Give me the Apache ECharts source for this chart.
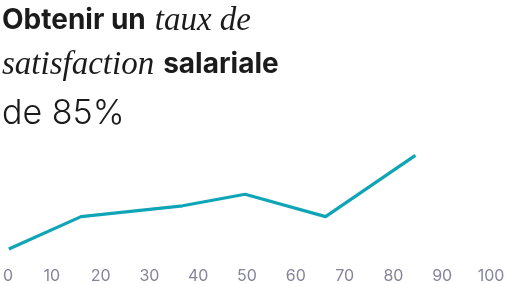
<!DOCTYPE html>
<html>
<head>
<meta charset="utf-8">
<script src="https://cdn.jsdelivr.net/npm/echarts@6/dist/echarts.min.js"></script>
<style>
html,body{margin:0;padding:0;background:#fff;}
#chart{width:510px;height:284px;}
</style>
</head>
<body>
<div id="chart"></div>
<script>
// Data
var xValues = [1.2, 16, 36.8, 49.6, 66.1, 84.5];
var yValues = [5, 32, 41, 50.6, 32, 83];
var xTicks = [0, 10, 20, 30, 40, 50, 60, 70, 80, 90, 100];
var titleLine1 = ['Obtenir un', 'taux de'];
var titleLine2 = ['satisfaction', 'salariale'];
var subtitle = 'de 85%';

var points = xValues.map(function (x, i) { return [x, yValues[i]]; });

var chart = echarts.init(document.getElementById('chart'), null, {renderer: 'canvas'});
chart.setOption({
  animation: false,
  backgroundColor: '#ffffff',
  title: {
    left: 2,
    top: -1,
    padding: 0,
    text: '{b|' + titleLine1[0] + '}{s|}{i|' + titleLine1[1] + '}\n{i|' + titleLine2[0] + '}{s|}{b|' + titleLine2[1] + '}',
    textStyle: {
      fontWeight: 'normal',
      rich: {
        b: {fontFamily: 'Inter', fontWeight: 700, fontSize: 28, color: '#1b1b1b', lineHeight: 44, letterSpacing: 0.4},
        s: {width: 9, fontSize: 10, lineHeight: 44},
        i: {fontFamily: 'Liberation Serif', fontStyle: 'italic', fontWeight: 'normal', fontSize: 33, color: '#1b1b1b', lineHeight: 44}
      }
    }
  },
  graphic: [{
    type: 'text',
    left: 2,
    top: 97,
    style: {text: subtitle, fontFamily: 'Inter', fontWeight: 300, fontSize: 34, fill: '#1b1b1b'}
  }],
  grid: {left: -1, right: 19, top: 135, bottom: 29, containLabel: false},
  xAxis: {
    type: 'value',
    min: 0, max: 100, interval: 10,
    axisLine: {show: false},
    axisTick: {show: false},
    splitLine: {show: false},
    axisLabel: {
      color: '#86849a', fontFamily: 'Inter', fontSize: 16, margin: 13,
      alignMinLabel: 'left',
      formatter: function (v) { return xTicks.indexOf(v) >= 0 ? String(v) : ''; }
    }
  },
  yAxis: {
    type: 'value', min: 0, max: 100, show: false
  },
  series: [{
    type: 'line',
    data: points,
    showSymbol: false,
    symbol: 'none',
    lineStyle: {color: '#0fa5b6', width: 3.2},
    clip: false
  }]
});
</script>
</body>
</html>
